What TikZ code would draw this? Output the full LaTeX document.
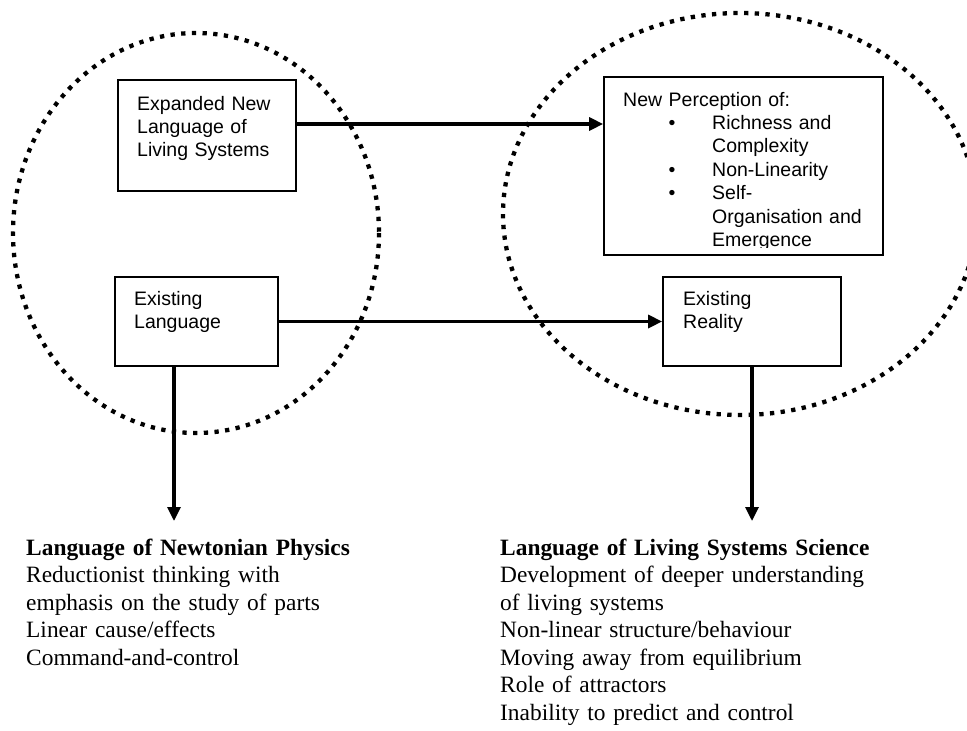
\documentclass[tikz,border=0pt]{standalone}
\usepackage{fontspec}
\setmainfont{Liberation Serif}
\newfontfamily\arialf{Liberation Sans}
\usetikzlibrary{arrows.meta}
\begin{document}
\begin{tikzpicture}[x=1pt,y=-1pt,
  boxnode/.style={draw, line width=1.7pt, inner sep=0pt, fill=white},
  boxtext/.style={anchor=base west, inner sep=0pt, align=left, text width=#1,
    font=\arialf\fontsize{19.5}{23.4}\selectfont},
  bodytext/.style={anchor=base west, inner sep=0pt, align=left, text width=#1,
    font=\fontsize{23.4}{27.5}\selectfont},
  conn/.style={line width=3.2pt, -{Triangle[length=14pt,width=13pt]}},
  dotring/.style={line width=4.3pt, dash pattern=on 4.3pt off 6.4pt}]
\clip (0,0) rectangle (967,731);
\fill[white] (0,0) rectangle (967,731);
% dotted rings
\draw[dotring] (196,233) ellipse [x radius=183, y radius=200];
\draw[dotring] (740,214) ellipse [x radius=237, y radius=201];
% boxes
\node[boxnode, minimum width=178pt, minimum height=111pt] (A) at (207,135.5) {};
\node[boxnode, minimum width=163pt, minimum height=89pt] (B) at (196.5,321.5) {};
\node[boxnode, minimum width=279pt, minimum height=178pt] (C) at (743.5,166) {};
\node[boxnode, minimum width=178pt, minimum height=89pt] (D) at (752,321.5) {};
% box texts
\node[boxtext=155pt] (tA) at (137,110) {Expanded New\\Language of\\Living Systems};
\node[boxtext=140pt] (tB) at (134,305) {Existing\\Language};
\node[boxtext=150pt] (tD) at (683,305) {Existing\\Reality};
\begin{scope}
\clip (604,77) rectangle (883,247.5);
\node[boxtext=255pt] (tC) at (623,106) {New Perception of:\\
\hspace*{45.5pt}\makebox[43.5pt][l]{•}Richness and\\
\hspace*{89pt}Complexity\\
\hspace*{45.5pt}\makebox[43.5pt][l]{•}Non-Linearity\\
\hspace*{45.5pt}\makebox[43.5pt][l]{•}Self-\\
\hspace*{89pt}Organisation and\\
\hspace*{89pt}Emergence};
\end{scope}
% bottom texts
\node[bodytext=430pt] (tL) at (26,555) {\textbf{Language of Newtonian Physics}\\
Reductionist thinking with\\
emphasis on the study of parts\\
Linear cause/effects\\
Command-and-control};
\node[bodytext=460pt] (tR) at (500,555) {\textbf{Language of Living Systems Science}\\
Development of deeper understanding\\
of living systems\\
Non-linear structure/behaviour\\
Moving away from equilibrium\\
Role of attractors\\
Inability to predict and control};
% connectors
\coordinate (Lend) at (174,521);
\coordinate (Rend) at (752,521);
\draw[conn] (A.east |- 0,124) -- (C.west |- 0,124);
\draw[conn] (B.east) -- (D.west);
\draw[conn] (B.south -| Lend) -- (Lend);
\draw[conn] (D.south) -- (Rend);
\end{tikzpicture}
\end{document}
